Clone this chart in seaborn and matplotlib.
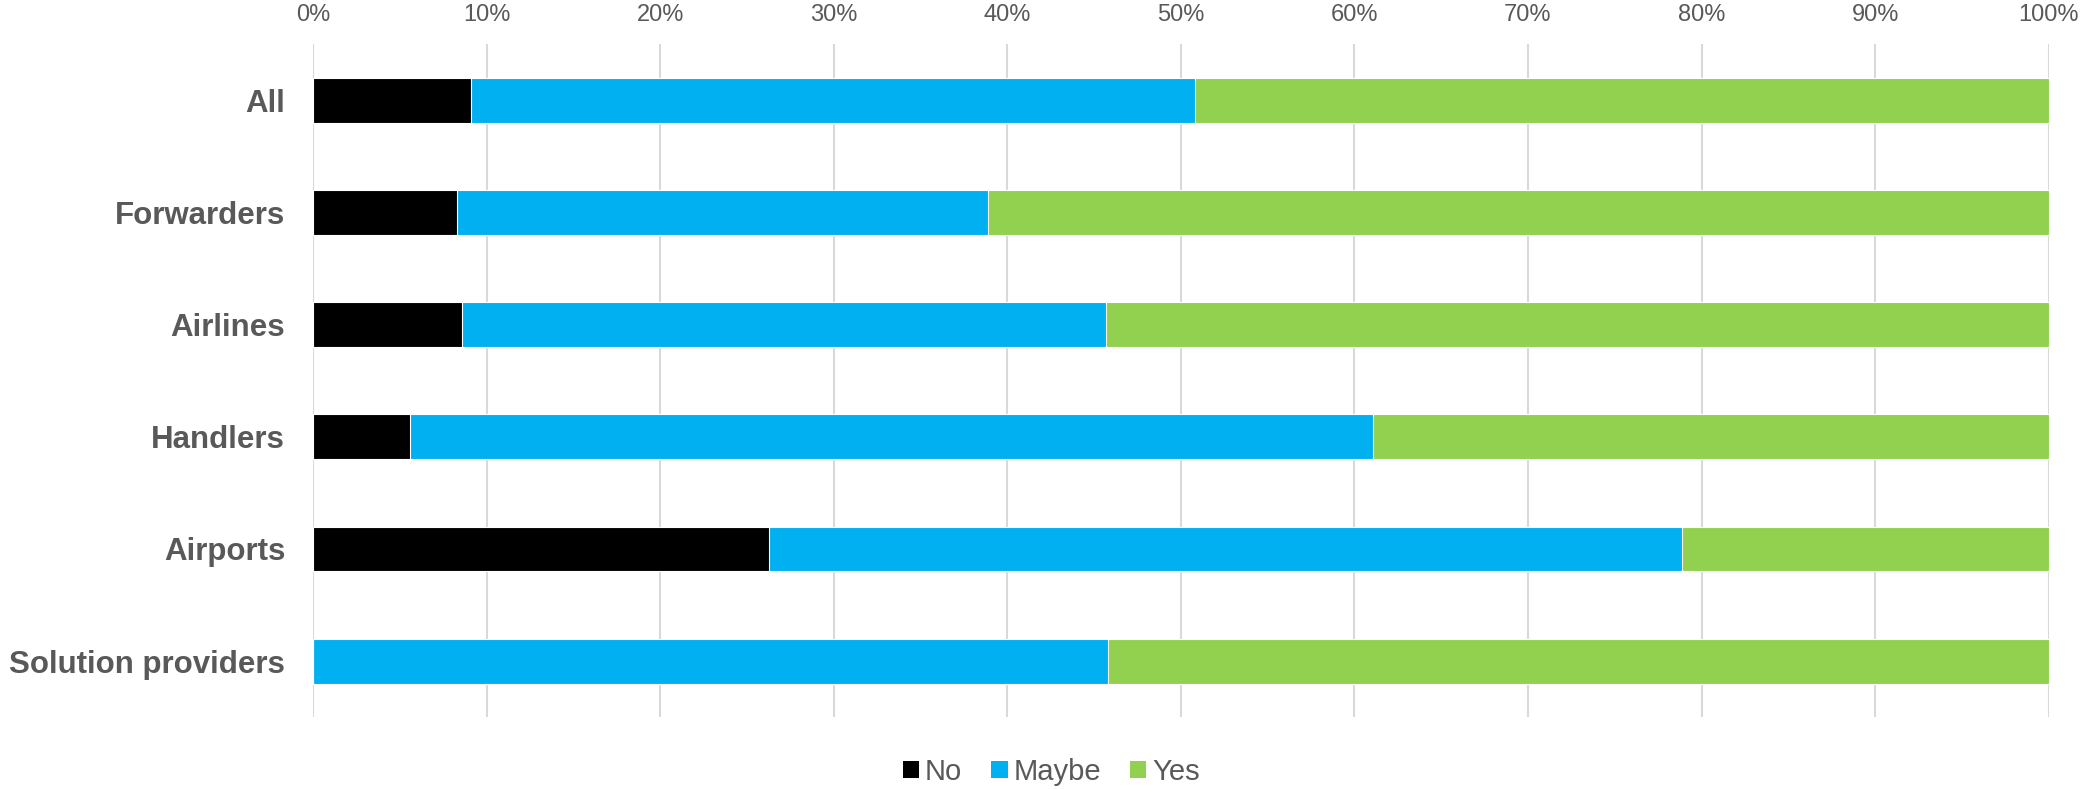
import numpy as np
import pandas as pd
import matplotlib
matplotlib.use("Agg")
import matplotlib.pyplot as plt
from matplotlib.patches import Patch
import seaborn as sns

# Data (percent shares per group)
groups = ["All", "Forwarders", "Airlines", "Handlers", "Airports", "Solution providers"]
no_pct = [9.1, 8.3, 8.6, 5.6, 26.3, 0.0]
maybe_pct = [41.7, 30.6, 37.1, 55.5, 52.6, 45.8]
yes_pct = [49.2, 61.1, 54.3, 38.9, 21.1, 54.2]

series = ["No", "Maybe", "Yes"]
colors = {"No": "#000000", "Maybe": "#00B0F0", "Yes": "#92D050"}
text_color = "#595959"

sns.set_style("white")
plt.rcParams["font.family"] = ["Liberation Sans", "DejaVu Sans"]

df = pd.DataFrame({"group": groups, "No": no_pct, "Maybe": maybe_pct, "Yes": yes_pct})
df["cum_No"] = df["No"]
df["cum_Maybe"] = df["No"] + df["Maybe"]
df["cum_Yes"] = df["cum_Maybe"] + df["Yes"]

fig = plt.figure(figsize=(20.82, 7.89), dpi=100)
ax = fig.add_axes([0.1503, 0.091, 0.8337, 0.853])

# stacked bars: draw cumulative totals back to front
for s in reversed(series):
    sns.barplot(data=df, x="cum_" + s, y="group", orient="h", color=colors[s],
                width=0.4, saturation=1, edgecolor="white", linewidth=0.8,
                ax=ax, zorder=2)

ax.set_xlim(0, 100)
ax.set_ylim(5.5, -0.5)
ax.set_xticks(np.arange(0, 101, 10))
ax.set_xticklabels([f"{v}%" for v in range(0, 101, 10)])
ax.xaxis.tick_top()
ax.tick_params(axis="x", length=0, pad=13, labelsize=17, labelcolor=text_color)
ax.tick_params(axis="y", length=0, pad=20, labelsize=22.5, labelcolor=text_color)
for lab in ax.get_yticklabels():
    lab.set_fontweight("bold")
ax.set_xlabel("")
ax.set_ylabel("")
ax.grid(axis="x", color="#D9D9D9", linewidth=1.5, zorder=0)
ax.grid(axis="y", visible=False)
ax.set_axisbelow(True)
for sp in ax.spines.values():
    sp.set_visible(False)

handles = [Patch(facecolor=colors[s], edgecolor="none", label=s) for s in series]
fig.legend(handles=handles, loc="center", bbox_to_anchor=(0.505, 0.022), ncol=3,
           frameon=False, fontsize=21, labelcolor=text_color,
           handlelength=0.55, handleheight=0.55, handletextpad=0.2, columnspacing=1.0)

fig.savefig("out.png", dpi=100)
